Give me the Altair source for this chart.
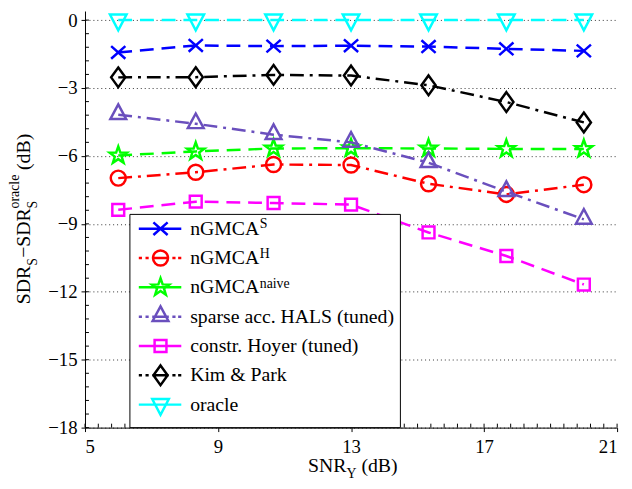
import altair as alt
import pandas as pd

# ---------------- data ----------------
snr = [6, 8.33, 10.67, 13, 15.33, 17.67, 20]
series_names = ["nGMCA^S", "nGMCA^H", "nGMCA^naive", "sparse acc. HALS (tuned)",
                "constr. Hoyer (tuned)", "Kim & Park", "oracle"]
superscripts = ["S", "H", "naive"]
ngmca_s = [-1.43, -1.12, -1.15, -1.13, -1.17, -1.27, -1.36]
ngmca_h = [-6.98, -6.72, -6.38, -6.40, -7.23, -7.70, -7.27]
ngmca_naive = [-5.98, -5.80, -5.67, -5.66, -5.67, -5.69, -5.69]
hals = [-4.18, -4.58, -5.06, -5.40, -6.30, -7.58, -8.80]
hoyer = [-8.38, -8.02, -8.08, -8.15, -9.38, -10.42, -11.68]
kim_park = [-2.53, -2.52, -2.42, -2.45, -2.88, -3.62, -4.52]
oracle = [0, 0, 0, 0, 0, 0, 0]
x_ticks = [5, 9, 13, 17, 21]
y_ticks = [-18, -15, -12, -9, -6, -3, 0]

all_values = [ngmca_s, ngmca_h, ngmca_naive, hals, hoyer, kim_park, oracle]

# ---------------- styles ----------------
colors = ["#0000ff", "#ff0000", "#00ff00", "#6a4fbd", "#ff00ff", "#000000", "#00ffff"]
DASH = [14, 8]
DASHDOT = [14, 6, 3, 6]
dashes = [DASH, DASHDOT, DASH, DASHDOT, DASH, DASHDOT, DASH]
markers = [
    "M-0.9,-0.8L0.9,0.8M-0.9,0.8L0.9,-0.8",
    "M0.95,0A0.95,0.95,0,1,1,-0.95,0A0.95,0.95,0,1,1,0.95,0Z",
    "M0,-1.15L0.27,-0.372L1.094,-0.355L0.437,0.142L0.676,0.93L0,0.46L-0.676,0.93L-0.437,0.142L-1.094,-0.355L-0.27,-0.372Z",
    "M0,-1.3L1.0,0.55L-1.0,0.55Z",
    "M-0.75,-0.75L0.75,-0.75L0.75,0.75L-0.75,0.75Z",
    "M0,-1.25L0.9,0L0,1.25L-0.9,0Z",
    "M-1.05,-0.7L1.05,-0.7L0,1.3Z",
]
solid_leg = "M-2.75,0L2.63,0"
dotted_leg = "M-2.75,0L-2.35,0M-1.9,0L-1.5,0M-1.05,0L1.05,0M1.5,0L1.9,0M2.23,0L2.63,0"
# zero-length segments: give every legend symbol the same (invisible) vertical extent
bounds_pad = "M-2.75,-1.5L-2.75,-1.5M-2.75,1.5L-2.75,1.5"
leg_lines = [solid_leg, dotted_leg, solid_leg, dotted_leg, solid_leg, dotted_leg, solid_leg]
legend_paths = [m + l + bounds_pad for m, l in zip(markers, leg_lines)]

FONT = "Liberation Serif"
W, H = 539, 422

rows = []
for name, vals in zip(series_names, all_values):
    for xv, yv in zip(snr, vals):
        rows.append({"series": name, "snr": xv, "sdr": yv})
df = pd.DataFrame(rows)

xscale = alt.Scale(domain=[5, 21], nice=False, zero=False)
yscale = alt.Scale(domain=[-18, 0.4], nice=False, zero=False)
xaxis = alt.Axis(values=x_ticks, grid=False, title=None, tickSize=4, labelPadding=6,
                 format="d")
yaxis = alt.Axis(values=y_ticks, grid=True, gridDash=[1, 3], gridColor="#333333",
                 gridWidth=1, title=None, tickSize=4, labelPadding=4, format="d")


def X(field):
    return alt.X(field, scale=xscale, axis=xaxis)


def Y(field):
    return alt.Y(field, scale=yscale, axis=yaxis)


layers = []

# minor ticks (inside)
minor_x = pd.DataFrame({"v": [5 + 0.4 * i for i in range(41)]})
minor_y = pd.DataFrame({"v": [-18 + 0.6 * i for i in range(31)]})
layers.append(alt.Chart(minor_x).mark_rule(color="black", strokeWidth=1).encode(
    x=X("v:Q"), y=alt.value(H), y2=alt.value(H - 4)))
layers.append(alt.Chart(minor_y).mark_rule(color="black", strokeWidth=1).encode(
    y=Y("v:Q"), x=alt.value(0), x2=alt.value(4)))

base = alt.Chart(df)
for name, col, dash, mk in zip(series_names, colors, dashes, markers):
    sub = base.transform_filter(alt.datum.series == name)
    layers.append(sub.mark_line(color=col, strokeWidth=2.5, strokeDash=dash).encode(
        x=X("snr:Q"), y=Y("sdr:Q")))
    layers.append(sub.mark_point(shape=mk, color=col, filled=False, strokeWidth=2.5,
                                 size=256, opacity=1).encode(x=X("snr:Q"), y=Y("sdr:Q")))

LEG_X, LEG_Y, LEG_PAD = 45, 205.5, 5
legend = alt.Legend(orient="none", legendX=LEG_X, legendY=LEG_Y, title=None, padding=LEG_PAD,
                    strokeColor="black", fillColor="white", labelFont=FONT,
                    labelFontSize=20, labelColor="black", symbolSize=256,
                    symbolStrokeWidth=2.5, symbolOffset=16.5, labelOffset=20,
                    rowPadding=-4.3, gridAlign="all", symbolOpacity=1, cornerRadius=0,
                    labelLimit=400, zindex=1,
                    labelExpr="slice(datum.label, 0, 5) == 'nGMCA' ? 'nGMCA' : datum.label")
layers.append(base.transform_filter("false").mark_point(filled=False, strokeWidth=2.5, size=256).encode(
    x=X("snr:Q"), y=Y("sdr:Q"),
    color=alt.Color("series:N", scale=alt.Scale(domain=series_names, range=colors), legend=legend),
    shape=alt.Shape("series:N", scale=alt.Scale(domain=series_names, range=legend_paths), legend=legend),
))

# second (transparent) legend carrying the superscripts of the nGMCA entries
sup_legend = alt.Legend(orient="none", legendX=163, legendY=209, title=None, padding=0,
                        labelFont=FONT, labelFontSize=14, labelColor="black",
                        symbolSize=1, symbolStrokeWidth=0, symbolOpacity=0,
                        symbolStrokeColor="transparent", symbolFillColor="transparent",
                        symbolOffset=0, labelOffset=0, rowPadding=16.5, gridAlign="all",
                        zindex=2, labelLimit=200)
layers.append(base.transform_filter("false").mark_point(size=1).encode(
    x=X("snr:Q"), y=Y("sdr:Q"),
    fill=alt.Fill("sup:N", scale=alt.Scale(domain=superscripts,
                                           range=["transparent", "transparent", "transparent"]),
                  legend=sup_legend),
))


def label(txt, px, py, fs, angle=0):
    kw = dict(text=txt, align="left", baseline="alphabetic", font=FONT, fontSize=fs,
              color="black")
    if angle:
        kw["angle"] = angle
    return alt.Chart(pd.DataFrame({"t": [txt]})).mark_text(**kw).encode(
        x=alt.value(px), y=alt.value(py))


# y title: SDR_S - SDR_S^oracle (dB), rotated
layers += [
    label("SDR", -56, 297, 20, 270),
    label("S", -49, 258, 14, 270),
    label("\u2212SDR", -56, 250, 20, 270),
    label("S", -49, 200, 14, 270),
    label("oracle", -67, 200, 14, 270),
    label("(dB)", -56, 161, 20, 270),
]
# x title: SNR_Y (dB)
layers += [
    label("SNR", 226, 467, 20),
    label("Y", 265, 473, 14),
    label("(dB)", 280, 467, 20),
]

chart = alt.layer(*layers).properties(
    width=W, height=H,
    autosize=alt.AutoSizeParams(type="none"),
    padding={"left": 78, "top": 0, "right": 7, "bottom": 51},
).configure_view(stroke=None).configure_axis(
    labelFont=FONT, labelFontSize=19, labelColor="black", domainColor="black",
    tickColor="black", domainWidth=1, tickWidth=1,
)

chart.save("out.html", embed_options={"renderer": "svg", "actions": False})
